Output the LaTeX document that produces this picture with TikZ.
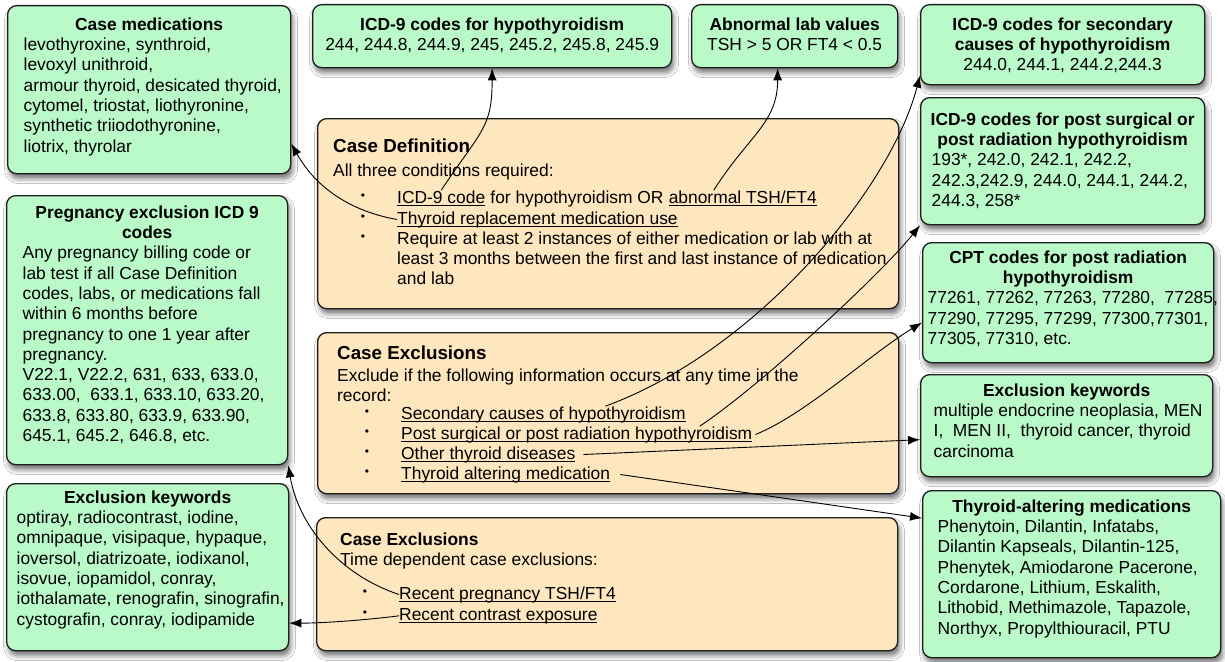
\documentclass[tikz,border=0pt]{standalone}
\usepackage{fontspec}
\setmainfont{Liberation Sans}
\usetikzlibrary{arrows.meta,shadows.blur}
\definecolor{mint}{RGB}{186,249,200}
\definecolor{peach}{RGB}{254,230,190}
\definecolor{edge}{HTML}{1E1E1E}
\newsavebox{\ulbox}
\newcommand{\ulk}[1]{\sbox\ulbox{#1}\rlap{\rule[-2.8pt]{\wd\ulbox}{0.9pt}}\usebox\ulbox}
\newcommand{\hd}[1]{\makebox[\linewidth]{\bfseries #1}\par}
\newcommand{\cl}[1]{\makebox[\linewidth]{#1}\par}
\newcommand{\bl}[1]{\mbox{#1}\par}
\newcommand{\boxtext}[3]{\parbox[t][#2][t]{#1}{#3}}
\tikzset{
  gbox/.style={draw=edge, line width=1.3pt, fill=mint, rounded corners=9pt, anchor=north west,
    blur shadow={shadow xshift=2pt, shadow yshift=-5pt, shadow blur radius=5pt, shadow opacity=55}},
  obox/.style={gbox, fill=peach, inner sep=0pt},
  txt/.style={anchor=base west, inner sep=0pt},
  ttl/.style={txt, font=\fontsize{18.8}{22}\selectfont\bfseries},
  dot/.style={inner sep=0pt, font=\fontsize{12}{12}\selectfont},
  conn/.style={-{Latex[length=12pt,width=9pt]}, line width=0.9pt, black},
}
\begin{document}
\begin{tikzpicture}[x=1pt, y=-1pt, font=\fontsize{17.4}{20.3}\selectfont]
  \useasboundingbox (0,0) rectangle (1225,661);
  \fill[white] (0,0) rectangle (1225,661);

  \node[gbox, inner xsep=16pt, inner ysep=12pt] (casemed) at (7,5) {\boxtext{251pt}{144pt}{%
    \hd{Case medications}\bl{levothyroxine, synthroid,}\bl{levoxyl unithroid,}%
    \bl{armour thyroid, desicated thyroid,}\bl{cytomel, triostat, liothyronine,}%
    \bl{synthetic triiodothyronine,}\bl{liotrix, thyrolar}}};
  \node[gbox, inner xsep=8pt, inner ysep=13pt] (icdhypo) at (312,4) {\boxtext{343pt}{37pt}{%
    \hd{ICD-9 codes for hypothyroidism}\cl{244, 244.8, 244.9, 245, 245.2, 245.8, 245.9}}};
  \node[gbox, inner xsep=8pt, inner ysep=13pt] (abnlab) at (691,4) {\boxtext{190pt}{37pt}{%
    \hd{Abnormal lab values}\cl{TSH > 5 OR FT4 < 0.5}}};
  \node[gbox, inner xsep=8pt, inner ysep=13pt] (icdsec) at (920,4) {\boxtext{268pt}{54pt}{%
    \hd{ICD-9 codes for secondary}\hd{causes of hypothyroidism}\cl{244.0, 244.1, 244.2,244.3}}};
  \node[gbox, inner xsep=11pt, inner ysep=15pt] (postbox) at (920,97) {\boxtext{262pt}{97pt}{%
    \hd{ICD-9 codes for post surgical or}\hd{post radiation hypothyroidism}%
    \bl{193*, 242.0, 242.1, 242.2,}\bl{242.3,242.9, 244.0, 244.1, 244.2,}\bl{244.3, 258*}}};
  \node[gbox, inner xsep=5pt, inner ysep=8pt] (cptbox) at (922,242) {\boxtext{281pt}{104pt}{%
    \hd{CPT codes for post radiation}\hd{hypothyroidism}%
    \bl{77261, 77262, 77263, 77280,\ \ 77285,}\bl{77290, 77295, 77299, 77300,77301,}\bl{77305, 77310, etc.}}};
  \node[gbox, inner xsep=13pt, inner ysep=9pt] (exclr) at (920,374) {\boxtext{266pt}{84pt}{%
    \hd{Exclusion keywords}\bl{multiple endocrine neoplasia, MEN}%
    \bl{I,\ \ MEN II,\ \ thyroid cancer, thyroid}\bl{carcinoma}}};
  \node[gbox, inner xsep=15pt, inner ysep=9pt] (thyaltbox) at (922,490) {\boxtext{268pt}{149pt}{%
    \hd{Thyroid-altering medications}\bl{Phenytoin, Dilantin, Infatabs,}%
    \bl{Dilantin Kapseals, Dilantin-125,}\bl{Phenytek, Amiodarone Pacerone,}%
    \bl{Cordarone, Lithium, Eskalith,}\bl{Lithobid, Methimazole, Tapazole,}%
    \bl{Northyx, Propylthiouracil, PTU}}};
  \node[gbox, inner xsep=16pt, inner ysep=10pt] (pregbox) at (6,195) {\boxtext{249pt}{249pt}{%
    \hd{Pregnancy exclusion ICD 9}\hd{codes}%
    \bl{Any pregnancy billing code or}\bl{lab test if all Case Definition}%
    \bl{codes, labs, or medications fall}\bl{within 6 months before}%
    \bl{pregnancy to one 1 year after}\bl{pregnancy.}%
    \bl{V22.1, V22.2, 631, 633, 633.0,}\bl{633.00,\ \ 633.1, 633.10, 633.20,}%
    \bl{633.8, 633.80, 633.9, 633.90,}\bl{645.1, 645.2, 646.8, etc.}}};
  \node[gbox, inner xsep=10pt, inner ysep=7pt] (exclleft) at (6,483) {\boxtext{262pt}{153pt}{%
    \hd{Exclusion keywords}\bl{optiray, radiocontrast, iodine,}%
    \bl{omnipaque, visipaque, hypaque,}\bl{ioversol, diatrizoate, iodixanol,}%
    \bl{isovue, iopamidol, conray,}\bl{iothalamate, renografin, sinografin,}%
    \bl{cystografin, conray, iodipamide}}};

  \node[obox, minimum width=581pt, minimum height=190pt] (casedef) at (317,118) {};
  \node[ttl] (cdtitle) at (333,152) {Case Definition};
  \node[txt] (cdintro) at (333,176) {All three conditions required:};
  \foreach \y [count=\i] in {203,224,244}
    {\node[dot] (cdb\i) at (363,\y-6) {\textbullet};}
  \node[txt] (icdcode) at (397,203) {\ulk{ICD-9 code}};
  \node[txt] (orword) at (icdcode.base east) {\ for hypothyroidism OR\ \mbox{}};
  \node[txt] (abntsh) at (orword.base east) {\ulk{abnormal TSH/FT4}};
  \node[txt] (thyrep) at (397,224) {\ulk{Thyroid replacement medication use}};
  \node[txt] (require) at (397,244) {\parbox[t]{490pt}{Require at least 2 instances of either medication or lab with at\\
    least 3 months between the first and last instance of medication\\and lab}};

  \node[obox, minimum width=581pt, minimum height=161pt] (caseexcl) at (317,332) {};
  \node[ttl] (cetitle) at (337,359) {Case Exclusions};
  \node[txt] (ceintro) at (337,381) {\parbox[t]{480pt}{Exclude if the following information occurs at any time in the\\record:}};
  \foreach \y [count=\i] in {419,439,459,479}
    {\node[dot] (ceb\i) at (367,\y-6) {\textbullet};}
  \node[txt] (secnd) at (401,419) {\ulk{Secondary causes of hypothyroidism}};
  \node[txt] (postsurg) at (401,439) {\ulk{Post surgical or post radiation hypothyroidism}};
  \node[txt] (othertd) at (401,459) {\ulk{Other thyroid diseases}};
  \node[txt] (thyalt) at (401,479) {\ulk{Thyroid altering medication}};

  \node[obox, minimum width=581pt, minimum height=133pt] (timeexcl) at (316,517) {};
  \node[txt] (tetitle) at (340,545) {\bfseries Case Exclusions};
  \node[txt] (teintro) at (340,565) {Time dependent case exclusions:};
  \foreach \y [count=\i] in {599,620}
    {\node[dot] (teb\i) at (365,\y-6) {\textbullet};}
  \node[txt] (recpreg) at (399,599) {\ulk{Recent pregnancy TSH/FT4}};
  \node[txt] (reccon) at (399,620) {\ulk{Recent contrast exposure}};

  \draw[conn] (icdcode.north) .. controls +(40,-60) and +(0,60) .. (icdhypo.south);
  \draw[conn] ([xshift=-29pt]abntsh.north) .. controls +(35,-55) and +(0,55) .. ([xshift=-17pt]abnlab.south);
  \draw[conn] (thyrep.west) .. controls +(-45,-8) and +(25,45) .. ([yshift=-54pt]casemed.east);
  \draw[conn] ([xshift=62pt]secnd.north) .. controls +(150,-55) and +(-30,115) .. ([yshift=-31pt]icdsec.west);
  \draw[conn] ([xshift=123pt]postsurg.north) .. controls +(60,-40) and +(-40,50) .. (postbox.south west);
  \draw[conn] ([xshift=3pt]postsurg.east) .. controls +(50,-20) and +(-50,30) .. ([yshift=-20pt]cptbox.west);
  \draw[conn] ([xshift=8pt]othertd.east) -- ([yshift=-14pt]exclr.west);
  \draw[conn] ([xshift=10pt]thyalt.east) -- ([yshift=56pt]thyaltbox.west);
  \draw[conn] (recpreg.west) .. controls +(-60,-20) and +(10,60) .. (pregbox.south east);
  \draw[conn] (reccon.west) .. controls +(-40,5) and +(30,0) .. ([yshift=-56pt]exclleft.east);
\end{tikzpicture}
\end{document}
